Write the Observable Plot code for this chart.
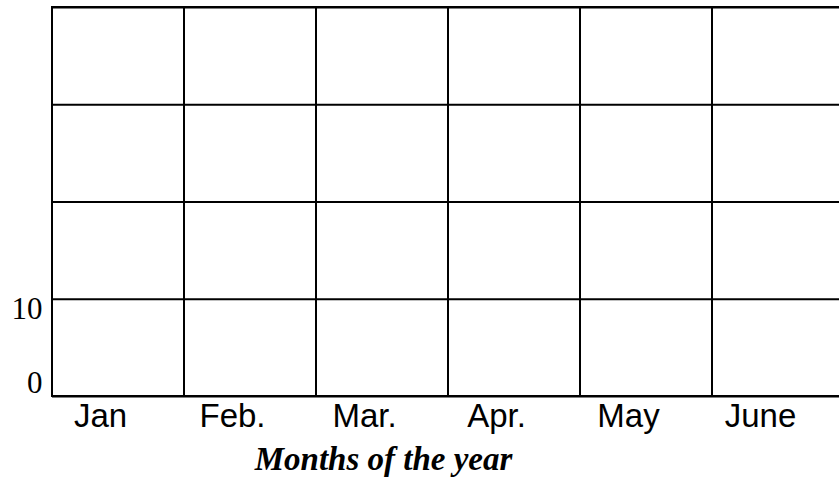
<!DOCTYPE html>
<html>
<head>
<meta charset="utf-8">
<script src="https://cdn.jsdelivr.net/npm/d3@7"></script>
<script src="https://cdn.jsdelivr.net/npm/@observablehq/plot@0.6"></script>
<style>
  html, body { margin: 0; padding: 0; background: #fff; overflow: hidden; }
</style>
</head>
<body>
<div id="chart"></div>
<script>
const months = ["Jan", "Feb.", "Mar.", "Apr.", "May", "June"];
const gridLevels = [0, 10, 20, 30, 40];
const yMax = 40;
const yTickTop = [10];
const yTickBottom = [0];
const xTitle = "Months of the year";

const columns = months.map(m => ({month: m, lo: 0, hi: yMax}));

const chart = Plot.plot({
  width: 839,
  height: 480,
  marginLeft: 52,
  marginRight: -5,
  marginTop: 7,
  marginBottom: 84,
  x: {type: "band", domain: months, padding: 0, axis: null},
  y: {domain: [0, yMax], axis: null},
  marks: [
    Plot.barY(columns, {x: "month", y1: "lo", y2: "hi", fill: "none", stroke: "black", strokeWidth: 2}),
    Plot.ruleY(gridLevels, {stroke: "black", strokeWidth: 2}),
    Plot.axisY(yTickTop, {tickSize: 0, tickPadding: 10, dy: 10, fontSize: 31, fontFamily: "Liberation Serif", fill: "black", label: null}),
    Plot.axisY(yTickBottom, {tickSize: 0, tickPadding: 10, dy: -13, fontSize: 31, fontFamily: "Liberation Serif", fill: "black", label: null}),
    Plot.axisX({tickSize: 0, tickPadding: 7, dx: -18, fontSize: 33, fontFamily: "Liberation Sans", fill: "black", label: null}),
    Plot.text([xTitle], {frameAnchor: "bottom", dx: -65, dy: 73, lineAnchor: "bottom", fontSize: 33, fontWeight: "bold", fontStyle: "italic", fontFamily: "Liberation Serif", fill: "black"})
  ]
});
document.getElementById("chart").appendChild(chart);
</script>
</body>
</html>
